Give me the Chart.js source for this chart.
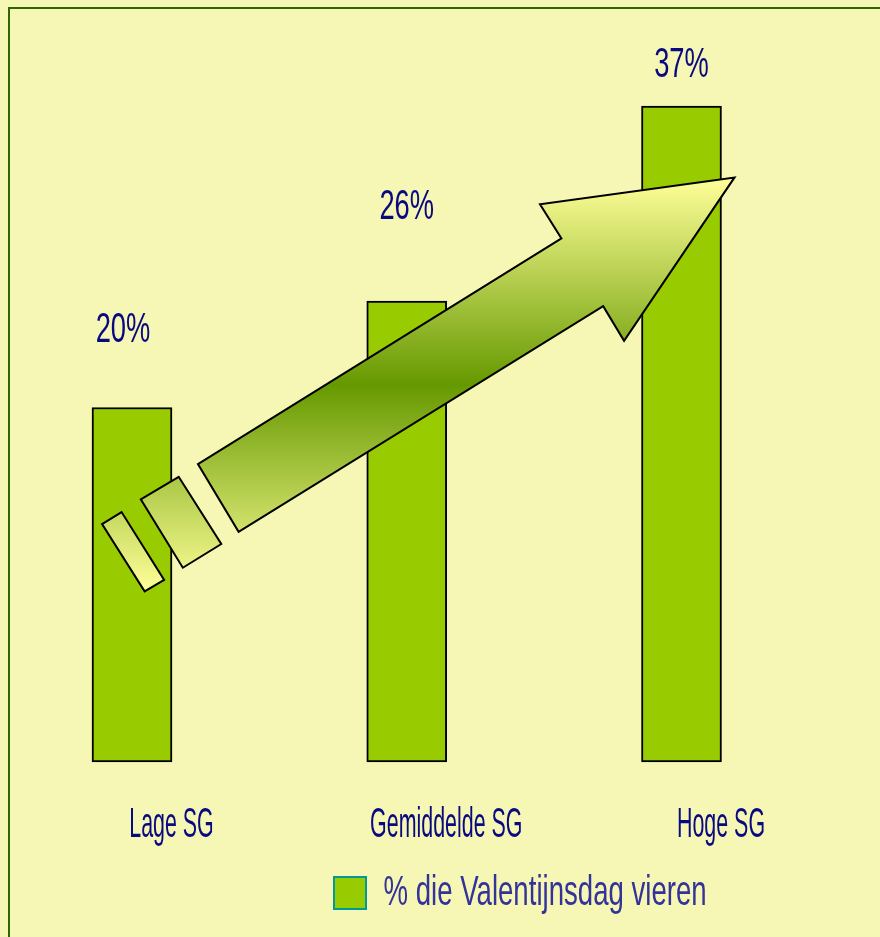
<!DOCTYPE html>
<html lang="nl">
<head>
<meta charset="utf-8">
<title>% die Valentijnsdag vieren</title>
<script src="https://cdn.jsdelivr.net/npm/chart.js@4/dist/chart.umd.min.js"></script>
<style>
  html, body { margin: 0; padding: 0; background: #F7F7B5; }
  #wrap { width: 880px; height: 937px; }
</style>
</head>
<body>
<div id="wrap"><canvas id="sgChart" width="880" height="937"></canvas></div>
<script>
/* ---- data ---- */
const CATEGORIES = ['Lage SG', 'Gemiddelde SG', 'Hoge SG'];
const VALUES = [20, 26, 37];
const VALUE_LABELS = ['20%', '26%', '37%'];
const SERIES_NAME = '% die Valentijnsdag vieren';
const Y_MIN = 0;
const Y_MAX = 40;

/* ---- decorative arrow, in axis units (x = category index, y = percent) ---- */
const ARROW = [[0.240, 16.81], [1.563, 29.54], [1.485, 31.47], [2.193, 32.98], [1.791, 23.76], [1.715, 25.72], [0.388, 12.99]];
const TAIL_A = [[0.032, 14.82], [0.170, 16.09], [0.325, 12.30], [0.185, 10.96]];
const TAIL_B = [[-0.109, 13.42], [-0.038, 14.10], [0.117, 10.27], [0.046, 9.63]];
const ARROW_FADE = [32.94, 9.64]; // light at both ends, dark in the middle

/* ---- text styling ---- */
const FONT = '"Liberation Sans", Arial, sans-serif';
const NAVY = '#0A0A80';
const VALUE_NUDGE = [[-9, 66], [0, 82], [0, 29]]; // dx, lift above bar top
const CAT_SHIFT = 39.5;

function squeezed(ctx, text, x, y, sx, color, align) {
  ctx.save();
  ctx.font = `42px ${FONT}`;
  ctx.fillStyle = color;
  ctx.textAlign = align || 'center';
  ctx.textBaseline = 'alphabetic';
  ctx.translate(x, y);
  ctx.scale(sx, 1);
  ctx.fillText(text, 0, 0);
  ctx.restore();
}

function shape(ctx, pts, x, y) {
  ctx.beginPath();
  pts.forEach((p, i) => {
    const px = x.getPixelForValue(p[0]), py = y.getPixelForValue(p[1]);
    i ? ctx.lineTo(px, py) : ctx.moveTo(px, py);
  });
  ctx.closePath();
  ctx.fill();
  ctx.stroke();
}

const decor = {
  id: 'decor',
  beforeDraw(chart) {
    const { ctx, width, height } = chart;
    ctx.save();
    ctx.fillStyle = '#F7F7B5';
    ctx.fillRect(0, 0, width, height);
    ctx.fillStyle = '#336600';
    ctx.fillRect(8, 7, width - 8, 2);
    ctx.fillRect(8, 7, 2, height - 7);
    ctx.restore();
  },
  afterDatasetsDraw(chart) {
    const { ctx, scales: { x, y } } = chart;

    // arrow
    ctx.save();
    const g = ctx.createLinearGradient(0, y.getPixelForValue(ARROW_FADE[0]), 0, y.getPixelForValue(ARROW_FADE[1]));
    g.addColorStop(0, '#FFFF99');
    g.addColorStop(0.5, '#669900');
    g.addColorStop(1, '#FFFF99');
    ctx.fillStyle = g;
    ctx.strokeStyle = '#000000';
    ctx.lineWidth = 2;
    ctx.lineJoin = 'miter';
    shape(ctx, TAIL_B, x, y);
    shape(ctx, TAIL_A, x, y);
    shape(ctx, ARROW, x, y);
    ctx.restore();

    // value labels
    VALUES.forEach((v, i) => {
      squeezed(ctx, VALUE_LABELS[i], x.getPixelForValue(i) + VALUE_NUDGE[i][0],
        y.getPixelForValue(v) - VALUE_NUDGE[i][1], 0.65, NAVY);
    });

    // category labels
    CATEGORIES.forEach((c, i) => {
      squeezed(ctx, c, x.getPixelForValue(i) + CAT_SHIFT, y.getPixelForValue(Y_MIN) + 75, 0.51, NAVY);
    });

    // legend
    ctx.save();
    ctx.fillStyle = '#99CC00';
    ctx.strokeStyle = '#009999';
    ctx.lineWidth = 2;
    ctx.fillRect(334, 877, 32, 32);
    ctx.strokeRect(334, 877, 32, 32);
    ctx.restore();
    squeezed(ctx, SERIES_NAME, 383.5, 905, 0.657, '#333399', 'left');
  }
};

new Chart(document.getElementById('sgChart'), {
  type: 'bar',
  data: {
    labels: CATEGORIES,
    datasets: [{
      label: SERIES_NAME,
      data: VALUES,
      backgroundColor: '#99CC00',
      borderColor: '#000000',
      borderWidth: 2,
      borderSkipped: false,
      barThickness: 80,
      clip: false
    }]
  },
  options: {
    responsive: false,
    animation: false,
    devicePixelRatio: 1,
    layout: { padding: { left: 132, right: 198.5, top: 53, bottom: 175 } },
    plugins: { legend: { display: false }, tooltip: { enabled: false } },
    scales: {
      x: { display: false, offset: false },
      y: { display: false, min: Y_MIN, max: Y_MAX }
    }
  },
  plugins: [decor]
});
</script>
</body>
</html>
